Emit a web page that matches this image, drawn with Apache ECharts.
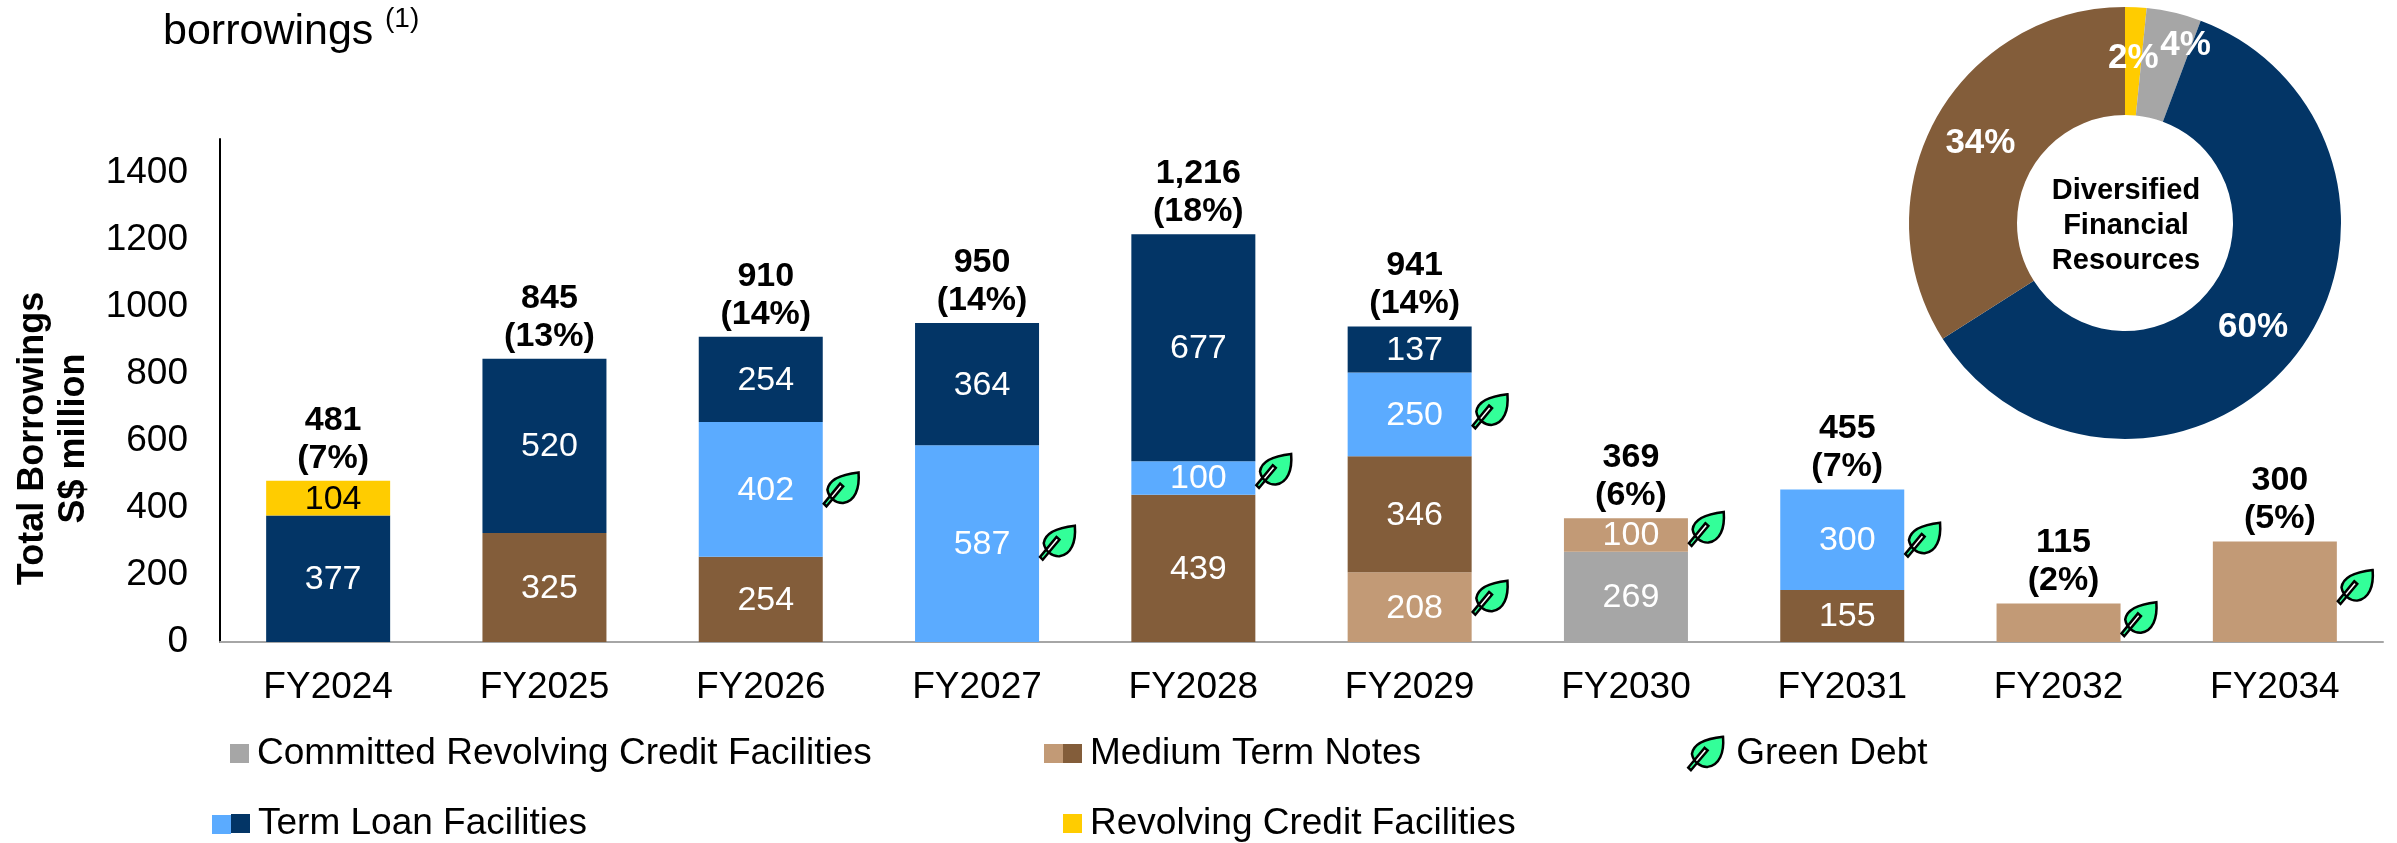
<!DOCTYPE html>
<html>
<head>
<meta charset="utf-8">
<style>html,body{margin:0;padding:0;background:#fff}#c{width:2397px;height:843px}</style>
<script src="https://cdn.jsdelivr.net/npm/echarts@6/dist/echarts.min.js"></script>
</head>
<body>
<div id="c"></div>
<script>
const categories = ['FY2024','FY2025','FY2026','FY2027','FY2028','FY2029','FY2030','FY2031','FY2032','FY2034'];
const committedRevolving = [null,null,null,null,null,null,269,null,null,null];
const mtnGreen   = [null,null,null,null,null,208,100,null,115,300];
const mtnRegular = [null,325,254,null,439,346,null,155,null,null];
const termGreen  = [null,null,402,587,100,250,null,300,null,null];
const termRegular= [377,520,254,364,677,137,null,null,null,null];
const revolving  = [104,null,null,null,null,null,null,null,null,null];
const totals = [481,845,910,950,1216,941,369,455,115,300];
const totalLabels = ['481','845','910','950','1,216','941','369','455','115','300'];
const totalShares = ['(7%)','(13%)','(14%)','(14%)','(18%)','(14%)','(6%)','(7%)','(2%)','(5%)'];
const unlabelled = ['FY2032','FY2034'];
const leafCategories = ['FY2026','FY2027','FY2028','FY2029','FY2029','FY2030','FY2031','FY2032','FY2034'];
const leafValues = [455,296,510,688,132,337,305,68,164];
const pieNames = ['Revolving Credit Facilities','Committed Revolving Credit Facilities','Term Loan Facilities','Medium Term Notes'];
const pieValues = [1.6,4.1,60.3,34.0];
const pieLabels = ['2%','4%','60%','34%'];

const FONT = '"Liberation Sans", Arial, sans-serif';
const C = {grey:'#A6A6A6', mtnL:'#C29A76', mtnD:'#835D3A', tlL:'#5BABFF', tlD:'#033566', yel:'#FFCC00', leaf:'#33FF99'};
const LEAF = 'path://M116 37 C70 42 28 55 23 88 C27 112 48 128 70 127 C105 122 120 85 116 37 Z M61 70 L70 78 L20 137 L12 129 Z';

function bar(name, values, color, labelColor){
  return {
    type:'bar', name, stack:'t', barWidth:124, itemStyle:{color},
    label:{show:true, position:'inside', offset:[5,1], color:labelColor||'#fff', fontSize:34, fontFamily:FONT},
    data: values.map((v,i)=> unlabelled.includes(categories[i]) ? {value:v,label:{show:false}} : v)
  };
}
function legend(name, left, top, opts){
  return Object.assign({
    data:[name], left, top, orient:'horizontal', selectedMode:false, icon:'rect',
    itemWidth:19, itemHeight:19, padding:0,
    textStyle:{fontSize:37, fontFamily:FONT, color:'#000', padding:[0,0,0,3]}
  }, opts||{});
}
const blank = {formatter:()=>''};

const option = {
  animation:false,
  backgroundColor:'#fff',
  title:[
    {text:'borrowings', left:163, top:11, padding:0, textStyle:{fontSize:43, fontWeight:'normal', fontFamily:FONT, color:'#000'}},
    {text:'(1)', left:385, top:5, padding:0, textStyle:{fontSize:28, fontWeight:'normal', fontFamily:FONT, color:'#000'}},
    {text:'Diversified\nFinancial\nResources', left:2126, top:226, textAlign:'center', textVerticalAlign:'middle', padding:0,
     textStyle:{fontSize:29, fontWeight:'bold', lineHeight:35, fontFamily:FONT, color:'#000'}}
  ],
  grid:{left:220, right:14, top:139, bottom:201, containLabel:false, outerBoundsMode:'none'},
  xAxis:{type:'category', data:categories,
    axisLine:{lineStyle:{color:C.grey,width:2}}, axisTick:{show:false},
    axisLabel:{fontSize:37, fontFamily:FONT, color:'#000', margin:27}},
  yAxis:{type:'value', min:0, max:1500, interval:200,
    name:'Total Borrowings\nS$ million', nameLocation:'middle', nameGap:125, nameRotate:90,
    nameTextStyle:{fontSize:36, fontWeight:'bold', fontFamily:FONT, color:'#000', lineHeight:41, padding:[0,96,0,0]},
    axisLine:{show:true, lineStyle:{color:'#000',width:2}}, axisTick:{show:false}, splitLine:{show:false},
    axisLabel:{fontSize:37, fontFamily:FONT, color:'#000', margin:32, showMaxLabel:false, formatter:v=>String(v)}},
  legend:[
    legend('Committed Revolving Credit Facilities', 230, 735),
    legend('Term Loan Facilities', 231, 805),
    legend('Term Loan Facilities (Green)', 212, 815, blank),
    legend('Medium Term Notes', 1063, 735),
    legend('Medium Term Notes (Green)', 1044, 744, blank),
    legend('Revolving Credit Facilities', 1063, 805),
    legend('Green Debt', 1687, 735, {icon:LEAF, itemWidth:35, itemHeight:34,
      itemStyle:{color:C.leaf, borderColor:'#000', borderWidth:2.5},
      textStyle:{fontSize:37, fontFamily:FONT, color:'#000', padding:[0,0,0,8]}})
  ],
  series:[
    bar('Committed Revolving Credit Facilities', committedRevolving, C.grey),
    bar('Medium Term Notes (Green)', mtnGreen, C.mtnL),
    bar('Medium Term Notes', mtnRegular, C.mtnD),
    bar('Term Loan Facilities (Green)', termGreen, C.tlL),
    bar('Term Loan Facilities', termRegular, C.tlD),
    bar('Revolving Credit Facilities', revolving, C.yel, '#000'),
    {type:'scatter', name:'Total', symbolSize:1, itemStyle:{color:'transparent', opacity:1}, z:5,
     data:totals,
     label:{show:true, position:'top', distance:3, offset:[5,0], fontSize:34, fontWeight:'bold', lineHeight:38, fontFamily:FONT, color:'#000',
       formatter:p=>totalLabels[p.dataIndex]+'\n'+totalShares[p.dataIndex]}},
    {type:'scatter', name:'Green Debt', symbol:LEAF, symbolSize:[35,34], symbolOffset:[80.5,0], z:6,
     itemStyle:{color:C.leaf, borderColor:'#000', borderWidth:2.5, opacity:1},
     data:leafCategories.map((c,i)=>[c,leafValues[i]])},
    {type:'pie', name:'Sources', center:[2125,223], radius:[108,216], startAngle:90, clockwise:true, silent:true,
     avoidLabelOverlap:false, labelLayout:{hideOverlap:false},
     label:{show:true, position:'inside', color:'#fff', fontSize:35, fontWeight:'bold', fontFamily:FONT, formatter:p=>pieLabels[p.dataIndex]},
     labelLine:{show:false}, z:4,
     data:pieNames.map((n,i)=>({name:n, value:pieValues[i],
       itemStyle:{color:[C.yel,C.grey,C.tlD,C.mtnD][i]},
       label:i===1?{offset:[23,-17]}:undefined}))}
  ]
};
echarts.init(document.getElementById('c'),null,{renderer:'canvas'}).setOption(option);
</script>
</body>
</html>
